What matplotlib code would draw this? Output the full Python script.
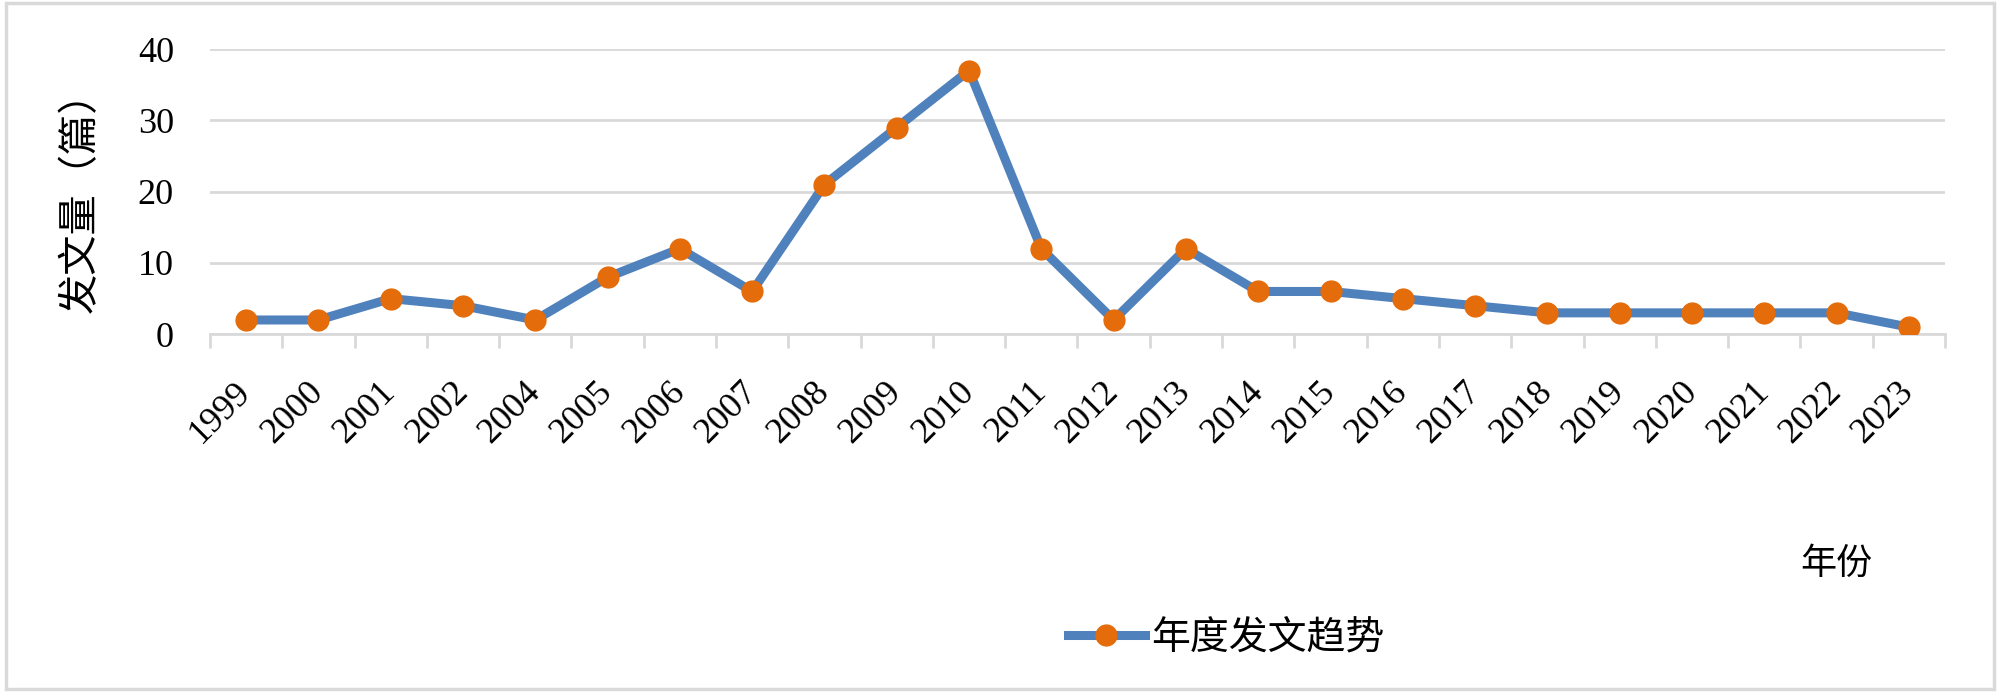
import matplotlib
matplotlib.use("Agg")
import matplotlib.pyplot as plt
from matplotlib.patches import Rectangle
from matplotlib.lines import Line2D
import numpy as np

years = ["1999", "2000", "2001", "2002", "2004", "2005", "2006", "2007", "2008",
         "2009", "2010", "2011", "2012", "2013", "2014", "2015", "2016", "2017",
         "2018", "2019", "2020", "2021", "2022", "2023"]
counts = [2, 2, 5, 4, 2, 8, 12, 6, 21, 29, 37, 12, 2, 12, 6, 6, 5, 4, 3, 3, 3, 3, 3, 1]
y_ticks = [0, 10, 20, 30, 40]
series_name = "年度发文趋势"
y_label = "发文量（篇）"
x_label = "年份"

LINE = "#4F81BD"
MARK = "#E46C0A"
GRID = "#D9D9D9"
CJK = ["Noto Sans CJK SC", "DejaVu Sans"]
SERIF = "Liberation Serif"

fig = plt.figure(figsize=(20, 6.92), dpi=100)
fig.patch.set_facecolor("white")
fig.patches.append(Rectangle((0.003, 0.005), 0.994, 0.99, transform=fig.transFigure,
                             fill=False, edgecolor="#D9D9D9", linewidth=2.5))

ax = fig.add_axes([0.105, 0.517, 0.8675, 0.412])
x = np.arange(len(years))
ax.plot(x, counts, color=LINE, linewidth=6.5, marker="o", markersize=15,
        markerfacecolor=MARK, markeredgecolor=MARK, solid_joinstyle="miter", zorder=3)

ax.set_xlim(-0.5, len(years) - 0.5)
ax.set_ylim(0, 40)
ax.set_yticks(y_ticks)
ax.set_yticklabels([str(v) for v in y_ticks], fontfamily=SERIF, fontsize=26)
ax.tick_params(axis="y", length=0, pad=26)
ax.yaxis.grid(True, color=GRID, linewidth=2)
ax.set_axisbelow(True)

ax.set_xticks(x)
ax.set_xticklabels(years, fontfamily=SERIF, fontsize=26, rotation=45,
                   ha="right", va="center", rotation_mode="anchor")
ax.tick_params(axis="x", which="major", length=0, pad=38)
ax.set_xticks(np.arange(-0.5, len(years), 1.0), minor=True)
ax.tick_params(axis="x", which="minor", length=10, width=2, color=GRID)

for s in ["top", "right", "left"]:
    ax.spines[s].set_visible(False)
ax.spines["bottom"].set_color(GRID)
ax.spines["bottom"].set_linewidth(2)

fig.text(0.04, 0.722, y_label, rotation=90, ha="center", va="center",
         fontsize=29, family=CJK)
fig.text(0.918, 0.185, x_label, ha="center", va="center", fontsize=26, family=CJK)

handle = Line2D([], [], color=LINE, linewidth=6.5, marker="o", markersize=15,
                markerfacecolor=MARK, markeredgecolor=MARK)
fig.legend([handle], [series_name], loc="center", bbox_to_anchor=(0.613, 0.078),
           frameon=False, prop={"family": CJK, "size": 28}, handlelength=2.0,
           handletextpad=0.15)

fig.savefig("out.png", dpi=100, facecolor="white")
